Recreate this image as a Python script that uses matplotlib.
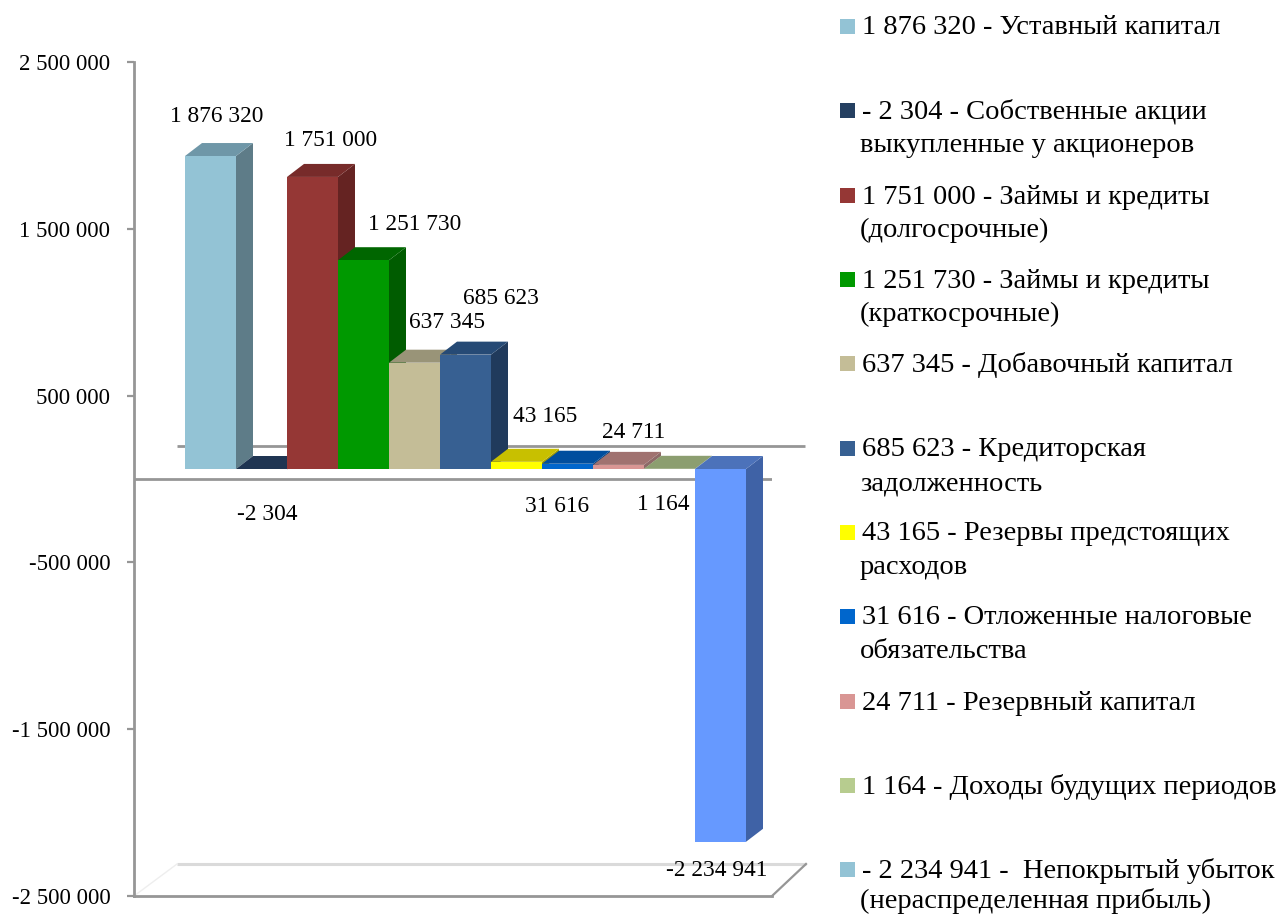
import matplotlib
matplotlib.use("Agg")
import matplotlib.pyplot as plt
from matplotlib.patches import Polygon, Rectangle

plt.rcParams['font.family'] = ['Liberation Serif', 'DejaVu Serif']

values = [1876320, -2304, 1751000, 1251730, 637345, 685623, 43165, 31616, 24711, 1164, -2234941]
front_colors = ['#93C3D5', '#1F3A5F', '#953735', '#009900', '#C4BD97', '#376092',
                '#FFFF00', '#0066CC', '#D99694', '#B7CC8F', '#6699FF']
top_colors = ['#6F97A8', '#1F3552', '#772B2A', '#006600', '#999478', '#264A75',
              '#C8C000', '#004E9E', '#A07270', '#8C9E70', '#4C72BA']
side_colors = ['#5E7C88', '#182C45', '#652322', '#005C00', '#8A8468', '#203A5C',
               '#A8A000', '#003F80', '#8D6A68', '#7A8C60', '#3F62A6']
yticks = [2500000, 1500000, 500000, -500000, -1500000, -2500000]
ytick_labels = ['2 500 000', '1 500 000', '500 000', '-500 000', '-1 500 000', '-2 500 000']
data_labels = ['1 876 320', '-2 304', '1 751 000', '1 251 730', '637 345', '685 623',
               '43 165', '31 616', '24 711', '1 164', '-2 234 941']
label_pos = [(217, 116), (267, 514), (331, 141), (415, 225), (447, 322), (501, 298),
             (545, 416), (557, 507), (634, 432), (663, 505), (717, 871)]
legend_lines = [
    ['1 876 320 - Уставный капитал'],
    ['- 2 304 - Собственные акции', 'выкупленные у акционеров'],
    ['1 751 000 - Займы и кредиты', '(долгосрочные)'],
    ['1 251 730 - Займы и кредиты', '(краткосрочные)'],
    ['637 345 - Добавочный капитал'],
    ['685 623 - Кредиторская', 'задолженность'],
    ['43 165 - Резервы предстоящих', 'расходов'],
    ['31 616 - Отложенные налоговые', 'обязательства'],
    ['24 711 - Резервный капитал'],
    ['1 164 - Доходы будущих периодов'],
    ['- 2 234 941 -  Непокрытый убыток', '(нераспределенная прибыль)'],
]
legend_colors = ['#93C3D5', '#254061', '#953735', '#009900', '#C4BD97', '#376092',
                 '#FFFF00', '#0066CC', '#D99694', '#B7CC8F', '#93C3D5']
legend_y = [27, 111, 196, 280, 364, 449, 533, 617, 702, 786, 870]
legend_gap = [33.5] * 10 + [30]

W, H = 1283, 915
GRAY = '#969696'
fig = plt.figure(figsize=(W / 100, H / 100), dpi=100, facecolor='white')

# Pixel-space backdrop: wall and floor of the 3D frame
bg = fig.add_axes([0, 0, 1, 1], zorder=0)
bg.set_xlim(0, W)
bg.set_ylim(H, 0)
bg.axis('off')
bg.plot([177, 806], [864, 864], color='#DADADA', lw=2.2, solid_capstyle='butt')
bg.plot([134, 177], [896, 864], color='#EEEEEE', lw=1.0)
bg.plot([772, 806], [896, 864], color=GRAY, lw=1.6)
bg.plot([177, 805], [446, 446], color=GRAY, lw=2.0, solid_capstyle='butt')

# Main axes: one category = 51 px, value scale as on the axis
L, R, T, B = 134, 772, 62, 896
ax = fig.add_axes([L / W, 1 - B / H, (R - L) / W, (B - T) / H], zorder=1)
ax.patch.set_visible(False)
ax.set_xlim(-1, 11 + 26 / 51)
ax.set_ylim(-2500000, 2500000)
for s in ('top', 'right'):
    ax.spines[s].set_visible(False)
for s in ('left', 'bottom'):
    ax.spines[s].set_color(GRAY)
    ax.spines[s].set_linewidth(2.0)
ax.set_xticks([])
ax.set_yticks(yticks)
ax.set_yticklabels(ytick_labels, fontsize=16.4)
ax.tick_params(axis='y', length=5, width=1.6, color=GRAY, pad=12)
ax.axhline(0, color=GRAY, lw=2.0, zorder=1)

unit = 1000000 / 166.8          # value units per pixel
base = 10 * unit                # floor of the bars sits 10 px above zero
ddx, ddy = 17 / 51, 13 * unit   # depth of the 3D extrusion

for i, v in enumerate(values):
    x0, x1 = i, i + 1
    y0, y1 = base, base + v
    side = Polygon([(x1, y0), (x1 + ddx, y0 + ddy), (x1 + ddx, y1 + ddy), (x1, y1)],
                   closed=True, fc=side_colors[i], ec='none', zorder=3 + i * 0.01)
    cap_y = y0 if v < 0 else y1
    cap = Polygon([(x0, cap_y), (x1, cap_y), (x1 + ddx, cap_y + ddy), (x0 + ddx, cap_y + ddy)],
                  closed=True, fc=top_colors[i], ec='none', zorder=3 + i * 0.01)
    face = Rectangle((x0, min(y0, y1)), 1, abs(v), fc=front_colors[i], ec='none',
                     zorder=3 + i * 0.01 + 0.001)
    ax.add_patch(side)
    ax.add_patch(cap)
    ax.add_patch(face)

# Data labels
for txt, (px, py) in zip(data_labels, label_pos):
    fig.text(px / W, 1 - py / H, txt, ha='center', va='center', fontsize=16.8, color='black', zorder=5)

# Legend
for lines, col, y, gap in zip(legend_lines, legend_colors, legend_y, legend_gap):
    bg.add_patch(Rectangle((840, y - 8), 15, 15, fc=col, ec='none'))
    for k, line in enumerate(lines):
        x = 862 if k == 0 else 860
        fig.text(x / W, 1 - (y + k * gap + 1) / H, line, ha='left', va='center',
                 fontsize=20.5, color='black', zorder=5)

fig.savefig('out.png', dpi=100)
